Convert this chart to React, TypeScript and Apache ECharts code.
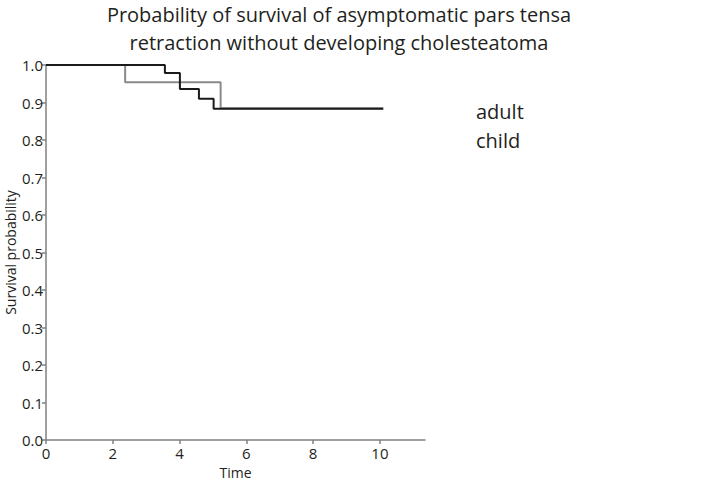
import React, { useEffect, useRef } from "react";
import * as echarts from "echarts";

const seriesNames = ["adult", "child"];
const adultTimes = [0, 3.56, 4.01, 4.58, 5.02, 10.1];
const adultSurv = [1.0, 0.979, 0.936, 0.91, 0.8835, 0.8835];
const childTimes = [0, 2.37, 5.23, 10.1];
const childSurv = [1.0, 0.954, 0.885, 0.885];
const xTicks = [0, 2, 4, 6, 8, 10];
const titleText = "Probability of survival of asymptomatic pars tensa\nretraction without developing cholesteatoma";

const FONT = "'Open Sans', 'Noto Sans', sans-serif";

export default function App() {
  const ref = useRef<HTMLDivElement>(null);
  useEffect(() => {
    if (!ref.current) return;
    const chart = echarts.init(ref.current, null, { renderer: "svg" });
    const zip = (xs: number[], ys: number[]) => xs.map((x, i) => [x, ys[i]]);
    chart.setOption({
      animation: false,
      backgroundColor: "#ffffff",
      textStyle: { fontFamily: FONT },
      title: {
        text: titleText,
        left: 339,
        top: 0,
        padding: 0,
        textAlign: "center",
        textStyle: { fontFamily: FONT, fontSize: 20, fontWeight: "normal", color: "#231f20", lineHeight: 28 },
      },
      legend: {
        orient: "vertical",
        left: 471,
        top: 101,
        padding: 0,
        itemWidth: 0,
        itemHeight: 0,
        itemGap: 9,
        data: seriesNames.map((n) => ({ name: n, icon: "rect" })),
        textStyle: { fontFamily: FONT, fontSize: 20, color: "#231f20", lineHeight: 20 },
      },
      grid: { left: 46, right: 283, top: 65, bottom: 43, containLabel: false, outerBoundsMode: "none" },
      xAxis: {
        type: "value",
        min: 0,
        max: 11.35,
        interval: 2,
        name: "Time",
        nameLocation: "middle",
        nameGap: 25,
        nameMoveOverlap: false,
        nameTextStyle: { fontFamily: FONT, fontSize: 14, color: "#231f20" },
        splitLine: { show: false },
        axisLine: { show: true, lineStyle: { color: "#808080", width: 1.5 } },
        axisTick: { show: true, length: 4, customValues: xTicks, lineStyle: { color: "#808080", width: 1.5 } },
        axisLabel: {
          customValues: xTicks,
          fontFamily: FONT,
          fontSize: 15,
          color: "#231f20",
          margin: 5,
        },
      },
      yAxis: {
        type: "value",
        min: 0,
        max: 1,
        interval: 0.1,
        name: "Survival probability",
        nameLocation: "middle",
        nameGap: 29,
        nameMoveOverlap: false,
        nameTextStyle: { fontFamily: FONT, fontSize: 14, color: "#231f20" },
        splitLine: { show: false },
        axisLine: { show: true, lineStyle: { color: "#808080", width: 1.5 } },
        axisTick: { show: true, length: 4, lineStyle: { color: "#808080", width: 1.5 } },
        axisLabel: {
          fontFamily: FONT,
          fontSize: 15,
          color: "#231f20",
          margin: 3,
          formatter: (v: number) => v.toFixed(1),
        },
      },
      series: [
        {
          name: seriesNames[0],
          type: "line",
          step: "end",
          showSymbol: false,
          symbol: "none",
          z: 3,
          data: zip(adultTimes, adultSurv),
          lineStyle: { color: "#1a1a1a", width: 2 },
          itemStyle: { color: "#1a1a1a" },
        },
        {
          name: seriesNames[1],
          type: "line",
          step: "end",
          showSymbol: false,
          symbol: "none",
          z: 2,
          data: zip(childTimes, childSurv),
          lineStyle: { color: "#8a8a8a", width: 2 },
          itemStyle: { color: "#8a8a8a" },
        },
      ],
    });
    return () => chart.dispose();
  }, []);
  return <div ref={ref} style={{ width: 708, height: 483, position: "absolute", left: 0, top: 0 }} />;
}
